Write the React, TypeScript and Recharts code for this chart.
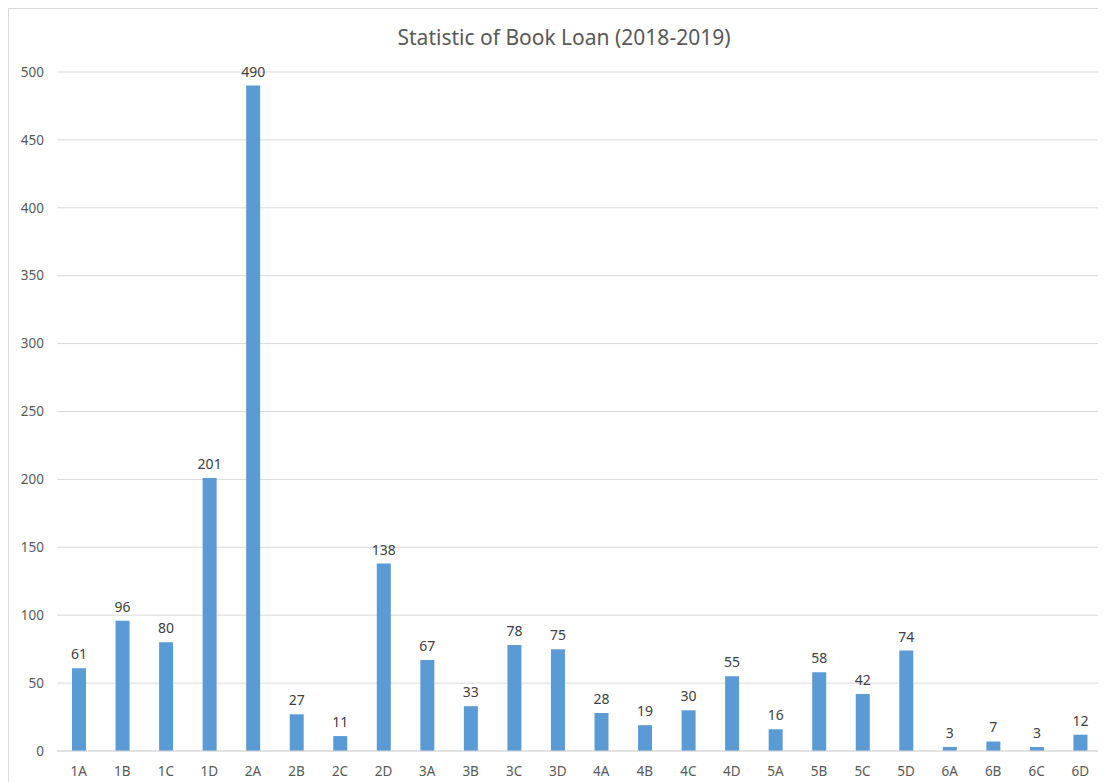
import React from "react";
import { BarChart, Bar, XAxis, YAxis, CartesianGrid, LabelList } from "recharts";

const categories = ["1A","1B","1C","1D","2A","2B","2C","2D","3A","3B","3C","3D","4A","4B","4C","4D","5A","5B","5C","5D","6A","6B","6C","6D"];
const loans = [61,96,80,201,490,27,11,138,67,33,78,75,28,19,30,55,16,58,42,74,3,7,3,12];
const yTicks = [0,50,100,150,200,250,300,350,400,450,500];

const data = categories.map((c, i) => ({ name: c, value: loans[i] }));

const FONT = "'Noto Sans', 'Open Sans', sans-serif";
const TEXT = "#595959";

export default function App() {
  return (
    <div style={{ position: "relative", width: 1098, height: 790, borderTop: "1px solid #d9d9d9", borderLeft: "1px solid #d9d9d9", background: "#fff", fontFamily: FONT }}>
      <div style={{ position: "absolute", top: 14, left: 0, width: 1110, textAlign: "center", fontSize: 21, color: TEXT, fontFamily: FONT }}>
        Statistic of Book Loan (2018-2019)
      </div>
      <BarChart width={1098} height={790} data={data} margin={{ top: 63, right: 5, left: 0, bottom: 18 }}>
        <CartesianGrid vertical={false} stroke="#d9d9d9" />
        <XAxis dataKey="name" height={30} tickLine={false} axisLine={{ stroke: "#d9d9d9" }} tickSize={0} tickMargin={15} tick={{ fill: TEXT, fontSize: 13.5, fontFamily: FONT }} interval={0} />
        <YAxis width={48} domain={[0, 500]} ticks={yTicks} tickLine={false} axisLine={false} tickSize={0} tickMargin={13} tick={{ fill: TEXT, fontSize: 13.5, fontFamily: FONT }} />
        <Bar dataKey="value" fill="#5B9BD5" barSize={14} isAnimationActive={false}>
          <LabelList dataKey="value" position="top" offset={9} fill="#404040" fontSize={14} fontFamily={FONT} />
        </Bar>
      </BarChart>
    </div>
  );
}
